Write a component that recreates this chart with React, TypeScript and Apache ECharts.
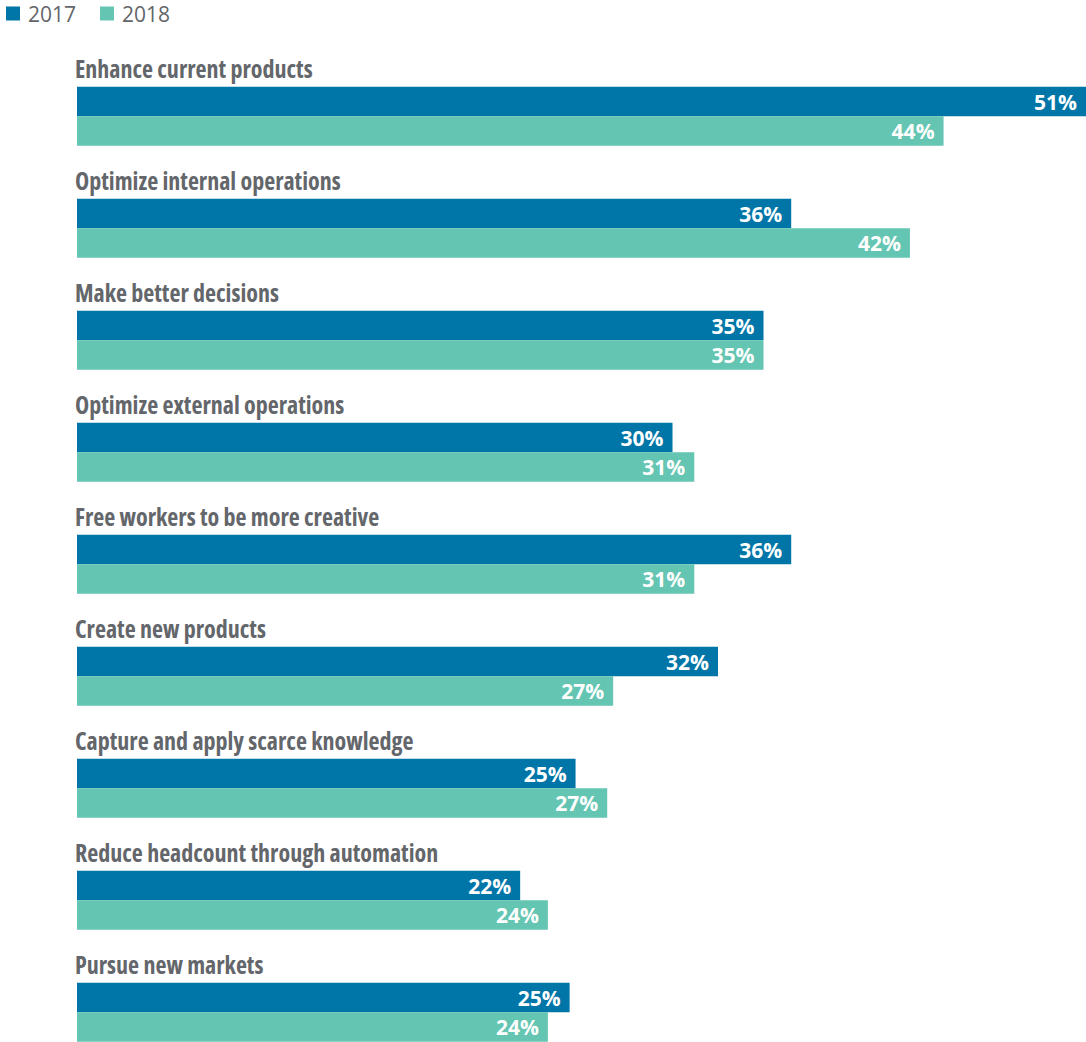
import React, { useEffect, useRef } from "react";
import * as echarts from "echarts";

const categories = [
  "Enhance current products",
  "Optimize internal operations",
  "Make better decisions",
  "Optimize external operations",
  "Free workers to be more creative",
  "Create new products",
  "Capture and apply scarce knowledge",
  "Reduce headcount through automation",
  "Pursue new markets",
];
const values2017 = [51, 36.1, 34.7, 30.1, 36.1, 32.4, 25.2, 22.4, 24.9];
const values2018 = [43.8, 42.1, 34.7, 31.2, 31.2, 27.1, 26.8, 23.8, 23.8];
const labelSlot = categories.map(() => 0);

const BLUE = "#0076A8";
const TEAL = "#64C5B2";
const GRAY = "#63666A";

export default function App() {
  const ref = useRef<HTMLDivElement>(null);
  useEffect(() => {
    if (!ref.current) return;
    const chart = echarts.init(ref.current, null, { renderer: "svg" });
    const valueLabel = {
      show: true,
      position: "insideRight",
      distance: 9,
      color: "#ffffff",
      fontFamily: "Open Sans",
      fontWeight: "bold",
      fontSize: 21,
      formatter: (p: any) => Math.round(p.value) + "%",
    };
    chart.setOption({
      animation: false,
      legend: {
        data: ["2017", "2018"],
        left: 6,
        top: 3,
        padding: 0,
        itemWidth: 14,
        itemHeight: 14,
        itemGap: 24,
        icon: "rect",
        textStyle: {
          color: GRAY,
          fontFamily: "Open Sans",
          fontSize: 21,
          padding: [0, 0, 0, 3],
        },
      },
      grid: { left: 77, top: 45.6, width: 1009, height: 1008, containLabel: false },
      xAxis: { type: "value", min: 0, max: 51, show: false },
      yAxis: { type: "category", data: categories, inverse: true, show: false },
      series: [
        {
          name: "label",
          type: "bar",
          data: labelSlot,
          barWidth: 29.5,
          barGap: "0%",
          itemStyle: { color: "transparent" },
          label: {
            show: true,
            position: [-2, 11],
            align: "left",
            verticalAlign: "middle",
            color: GRAY,
            fontFamily: "'Open Sans';font-stretch:75%",
            fontWeight: "bold",
            fontSize: 24,
            formatter: (p: any) => p.name,
          },
          silent: true,
        },
        {
          name: "2017",
          type: "bar",
          data: values2017,
          barWidth: 29.5,
          barGap: "0%",
          itemStyle: { color: BLUE },
          label: valueLabel,
        },
        {
          name: "2018",
          type: "bar",
          data: values2018,
          barWidth: 29.5,
          barGap: "0%",
          itemStyle: { color: TEAL },
          label: valueLabel,
        },
      ],
    });
    return () => chart.dispose();
  }, []);
  return (
    <div style={{ position: "absolute", left: 0, top: 0, width: 1086, height: 1042, overflow: "hidden" }}>
      <div ref={ref} style={{ width: 1086, height: 1060 }} />
    </div>
  );
}
